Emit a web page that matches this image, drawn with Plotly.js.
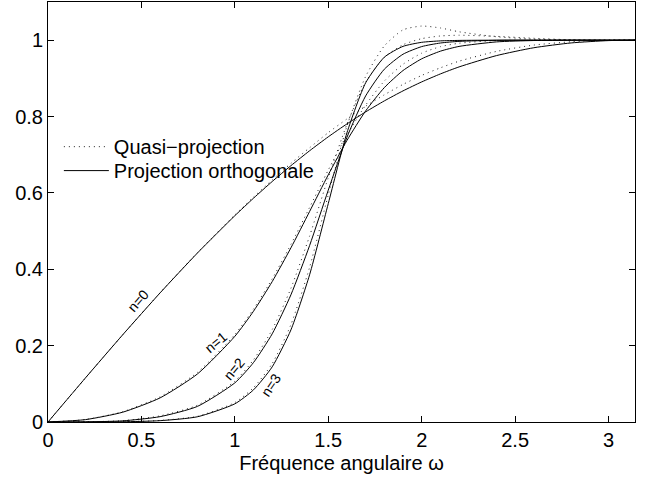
<!DOCTYPE html>
<html>
<head>
<meta charset="utf-8">
<script src="https://cdn.plot.ly/plotly-3.0.1.min.js"></script>
<style>html,body{margin:0;padding:0;background:#fff;}#chart{width:652px;height:479px;}</style>
</head>
<body>
<div id="chart"></div>
<script>
// angular frequency samples
var omega = [0, 0.2, 0.4, 0.6, 0.8, 1.0, 1.1, 1.2, 1.3, 1.4, 1.5, 1.6, 1.7, 1.8, 1.9, 2.0, 2.1, 2.2, 2.4, 2.6, 2.8, 3.0, 3.1416];

// Projection orthogonale (solid), n = 0..3
var ortho0 = [0, 0.1152, 0.2285, 0.3382, 0.4427, 0.5403, 0.5862, 0.6299, 0.6713, 0.7103, 0.7469, 0.7808, 0.8122, 0.8410, 0.8672, 0.8907, 0.9116, 0.9300, 0.9596, 0.9802, 0.9928, 0.9989, 1.0];
var ortho1 = [0, 0.0062, 0.0257, 0.0632, 0.1259, 0.2244, 0.2902, 0.3678, 0.4560, 0.5512, 0.6474, 0.7374, 0.8147, 0.8758, 0.9205, 0.9512, 0.9712, 0.9837, 0.9955, 0.9991, 0.9999, 1.0, 1.0];
var ortho2 = [0, 0.0004, 0.0030, 0.0140, 0.0409, 0.1025, 0.1558, 0.2310, 0.3330, 0.4620, 0.6073, 0.7458, 0.8540, 0.9240, 0.9632, 0.9832, 0.9926, 0.9969, 0.9996, 1.0, 1.0, 1.0, 1.0];
var ortho3 = [0, 0.0, 0.0006, 0.0035, 0.0137, 0.0476, 0.0842, 0.1445, 0.2411, 0.3855, 0.5720, 0.7576, 0.8883, 0.9555, 0.9838, 0.9944, 0.9982, 0.9994, 1.0, 1.0, 1.0, 1.0, 1.0];

// Quasi-projection (dotted), n = 0..3
var quasi0 = [0, 0.1152, 0.2285, 0.3387, 0.4437, 0.5423, 0.5892, 0.6339, 0.6773, 0.7183, 0.7579, 0.7938, 0.8272, 0.8570, 0.8842, 0.9077, 0.9276, 0.9450, 0.9706, 0.9872, 0.9958, 0.9999, 1.0];
var quasi1 = [0, 0.0065, 0.0270, 0.0660, 0.1300, 0.2290, 0.2960, 0.3750, 0.4650, 0.5620, 0.6600, 0.7520, 0.8300, 0.8930, 0.9370, 0.9660, 0.9830, 0.9920, 0.9990, 1.0005, 1.0, 1.0, 1.0];
var quasi2 = [0, 0.0005, 0.0035, 0.0160, 0.0440, 0.1070, 0.1630, 0.2420, 0.3500, 0.4870, 0.6400, 0.7800, 0.8900, 0.9550, 0.9880, 1.0040, 1.0110, 1.0130, 1.0100, 1.0050, 1.0010, 1.0, 1.0];
var quasi3 = [0, 0.0, 0.0007, 0.0040, 0.0150, 0.0510, 0.0900, 0.1530, 0.2550, 0.4050, 0.5950, 0.7750, 0.9050, 0.9850, 1.0270, 1.0370, 1.0320, 1.0220, 1.0090, 1.0030, 1.0010, 1.0, 1.0];

var seriesNames = ["Quasi\u2212projection", "Projection orthogonale"];
var curveLabels = ["n=0", "n=1", "n=2", "n=3"];
var xTicks = [0, 0.5, 1, 1.5, 2, 2.5, 3];
var xTickText = ["0", "0.5", "1", "1.5", "2", "2.5", "3"];
var yTicks = [0, 0.2, 0.4, 0.6, 0.8, 1];
var yTickText = ["0", "0.2", "0.4", "0.6", "0.8", "1"];

var FONT = "Liberation Sans, Arial, Helvetica, sans-serif";
var dotLine = {color: "#222", width: 1, dash: "1px,4px", shape: "spline", smoothing: 0.6};
var solidLine = {color: "#000", width: 1, shape: "spline", smoothing: 0.6};

var quasi = [quasi0, quasi1, quasi2, quasi3];
var ortho = [ortho0, ortho1, ortho2, ortho3];
var traces = [];
quasi.forEach(function (q, i) {
  traces.push({x: omega, y: q, type: "scatter", mode: "lines", line: dotLine,
    name: seriesNames[0], showlegend: i === 0, legend: "legend", hoverinfo: "skip"});
});
ortho.forEach(function (o, i) {
  traces.push({x: omega, y: o, type: "scatter", mode: "lines", line: solidLine,
    name: seriesNames[1], showlegend: i === 0, legend: "legend2", hoverinfo: "skip"});
});

var labelPos = [
  {x: 0.48, y: 0.318, a: -49},
  {x: 0.90, y: 0.209, a: -40},
  {x: 0.995, y: 0.139, a: -50},
  {x: 1.193, y: 0.097, a: -56}
];
var annotations = curveLabels.map(function (t, i) {
  return {x: labelPos[i].x, y: labelPos[i].y, xref: "x", yref: "y", text: t,
    showarrow: false, textangle: labelPos[i].a, font: {family: FONT, size: 14, color: "#000"}};
});

var axisCommon = {
  showline: true, mirror: "ticks", linecolor: "#000", linewidth: 1,
  ticks: "inside", ticklen: 6, tickwidth: 1, tickcolor: "#000",
  showgrid: false, zeroline: false,
  tickfont: {family: FONT, size: 20, color: "#000"}
};

var legendCommon = {xanchor: "left", yanchor: "top", bgcolor: "rgba(0,0,0,0)",
  borderwidth: 0, itemwidth: 45, font: {family: FONT, size: 20, color: "#000"}};

var layout = {
  width: 652, height: 479,
  margin: {l: 48, r: 17, t: 2, b: 57},
  paper_bgcolor: "#fff", plot_bgcolor: "#fff",
  font: {family: FONT, color: "#000"},
  xaxis: Object.assign({}, axisCommon, {
    range: [0, 3.1416], tickvals: xTicks, ticktext: xTickText,
    ticklabelstandoff: 0,
    title: {text: "Fréquence angulaire \u03c9", font: {family: FONT, size: 20, color: "#000"}, standoff: 5}
  }),
  yaxis: Object.assign({}, axisCommon, {
    range: [0, 1.1], tickvals: yTicks, ticktext: yTickText,
    ticklabelstandoff: 0
  }),
  showlegend: true,
  legend: Object.assign({}, legendCommon, {x: 0.0185, y: 0.702}),
  legend2: Object.assign({}, legendCommon, {x: 0.0185, y: 0.645}),
  annotations: annotations
};

Plotly.newPlot("chart", traces, layout, {staticPlot: true, displayModeBar: false});
</script>
</body>
</html>
